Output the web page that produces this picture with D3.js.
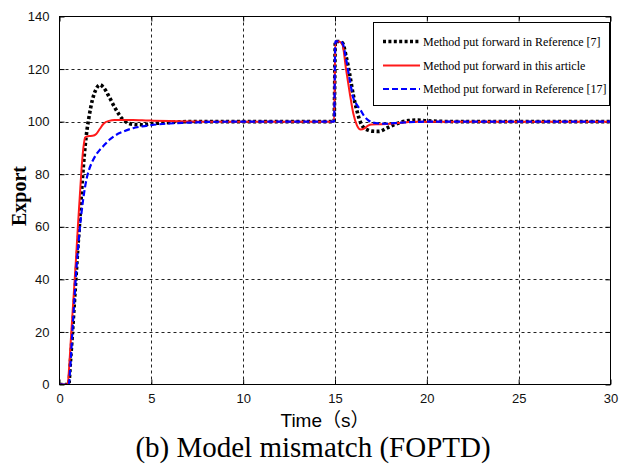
<!DOCTYPE html>
<html>
<head>
<meta charset="utf-8">
<script src="https://cdn.jsdelivr.net/npm/d3@7/dist/d3.min.js"></script>
<style>
  html, body { margin: 0; padding: 0; background: #fff; }
  svg { display: block; }
</style>
</head>
<body>
<svg id="chart" width="620" height="469"></svg>
<script>
// Sample times (s) shared by the three responses
const time = [0, 0.45, 0.5, 0.6, 0.7, 0.8, 0.9, 1.0, 1.1, 1.2, 1.3, 1.4, 1.5, 1.6, 1.8, 2.0, 2.2, 2.4, 2.7, 3.0,
  3.5, 4.0, 4.5, 5, 6, 7, 8, 10, 14.95, 15.02, 15.2, 15.4, 15.6, 15.8, 16.0, 16.2, 16.4, 16.6, 16.8, 17.0,
  17.4, 17.8, 18.2, 18.6, 19.0, 19.5, 20, 22, 30];

// Method of Reference [7]
const ref7 = [0, 0, 0, 9, 19, 30, 41, 52, 62, 73, 83, 91, 97, 101.5, 108.5, 112.5, 114, 113, 109.5, 105.5,
  100.5, 99, 98.8, 99.2, 99.7, 100, 100, 100, 100, 130.5, 130.5, 130, 125, 118, 110, 104, 99.5, 97.5, 96.8, 96.4,
  96.3, 97.5, 98.8, 99.8, 100.4, 100.6, 100.3, 100, 100];

// Method of this article
const thisArticle = [0, 0, 4, 15, 26, 37, 48, 60, 71, 82, 90, 94, 94.4, 94.5, 94.6, 95.3, 97.3, 99.2, 100.3, 100.6,
  100.6, 100.6, 100.5, 100.4, 100.2, 100.1, 100, 100, 100, 130.5, 130.5, 129.5, 120, 111, 103, 98.5, 97, 97.4, 98.5, 98.9,
  99, 99.1, 99.3, 99.6, 99.9, 100, 100, 100, 100];

// Method of Reference [17]
const ref17 = [0, 0, 0, 8, 20, 31, 42, 51, 59, 65.5, 71, 75.5, 79, 81.5, 85, 87.5, 89.3, 90.8, 93, 94.6,
  96.3, 97.5, 98.2, 98.7, 99.3, 99.6, 99.9, 100, 100, 130.5, 130.5, 130, 124, 116, 109, 106.3, 104.3, 102, 100.6, 99.8,
  99.3, 99.2, 99.4, 99.6, 99.8, 99.9, 100, 100, 100];

const xTicks = [0, 5, 10, 15, 20, 25, 30];
const yTicks = [0, 20, 40, 60, 80, 100, 120, 140];
const seriesNames = [
  "Method put forward in Reference [7]",
  "Method put forward in this article",
  "Method put forward in Reference [17]"
];

const svg = d3.select("#chart");
const plot = { left: 59.5, right: 610.5, top: 16.5, bottom: 384.5 };

const x = d3.scaleLinear().domain([0, 30]).range([plot.left, plot.right]);
const y = d3.scaleLinear().domain([0, 140]).range([plot.bottom, plot.top]);

// Dashed grid
const grid = svg.append("g").attr("stroke", "#222").attr("stroke-width", 1)
  .attr("stroke-dasharray", "3,3").attr("fill", "none");
xTicks.slice(1, -1).forEach(t => {
  grid.append("line").attr("x1", Math.round(x(t)) + 0.5).attr("x2", Math.round(x(t)) + 0.5)
    .attr("y1", plot.top).attr("y2", plot.bottom);
});
yTicks.slice(1, -1).forEach(v => {
  grid.append("line").attr("y1", Math.round(y(v)) + 0.5).attr("y2", Math.round(y(v)) + 0.5)
    .attr("x1", plot.left).attr("x2", plot.right);
});

// Axes with inward ticks on all four sides
const tickLen = 5;
const fmt = d3.format("d");
const axisBottom = d3.axisBottom(x).tickValues(xTicks).tickSizeInner(-tickLen).tickSizeOuter(0).tickPadding(9).tickFormat(fmt);
const axisTop = d3.axisTop(x).tickValues(xTicks).tickSizeInner(-tickLen).tickSizeOuter(0).tickFormat("");
const axisLeft = d3.axisLeft(y).tickValues(yTicks).tickSizeInner(-tickLen).tickSizeOuter(0).tickPadding(10).tickFormat(fmt);
const axisRight = d3.axisRight(y).tickValues(yTicks).tickSizeInner(-tickLen).tickSizeOuter(0).tickFormat("");

function styleAxis(g) {
  g.select(".domain").remove();
  g.selectAll(".tick line").attr("stroke", "#000");
  g.selectAll(".tick text").attr("fill", "#111")
    .style("font-family", "'Liberation Sans', Arial, sans-serif").style("font-size", "13px");
}
svg.append("g").attr("transform", `translate(0,${plot.bottom})`).call(axisBottom).call(styleAxis);
svg.append("g").attr("transform", `translate(0,${plot.top})`).call(axisTop).call(styleAxis);
svg.append("g").attr("transform", `translate(${plot.left},0)`).call(axisLeft).call(styleAxis);
svg.append("g").attr("transform", `translate(${plot.right},0)`).call(axisRight).call(styleAxis);

// Response curves
const clip = svg.append("clipPath").attr("id", "plotClip").append("rect")
  .attr("x", plot.left).attr("y", plot.top - 2)
  .attr("width", plot.right - plot.left).attr("height", plot.bottom - plot.top + 2);

const lineGen = vals => d3.line()
  .x((d, i) => x(time[i]))
  .y(d => y(d))
  .curve(d3.curveMonotoneX)(vals);

const styles = [
  { data: ref7, color: "#000", width: 3.6, dash: "3,2.4" },
  { data: thisArticle, color: "#ff1a1a", width: 2, dash: null },
  { data: ref17, color: "#0000ff", width: 2.2, dash: "6,3" }
];

const curves = svg.append("g").attr("clip-path", "url(#plotClip)");
styles.forEach(s => {
  curves.append("path").attr("d", lineGen(s.data))
    .attr("fill", "none").attr("stroke", s.color).attr("stroke-width", s.width)
    .attr("stroke-dasharray", s.dash).attr("stroke-linejoin", "round");
});

// Frame
svg.append("rect").attr("x", plot.left).attr("y", plot.top)
  .attr("width", plot.right - plot.left).attr("height", plot.bottom - plot.top)
  .attr("fill", "none").attr("stroke", "#000").attr("stroke-width", 1);

// Legend
const legend = svg.append("g");
legend.append("rect").attr("x", 373.5).attr("y", 22.5).attr("width", 236).attr("height", 83)
  .attr("fill", "#fff").attr("stroke", "#000").attr("stroke-width", 1);
const rowY = [41.5, 65.5, 89];
styles.forEach((s, i) => {
  legend.append("line").attr("x1", 383).attr("x2", 420).attr("y1", rowY[i]).attr("y2", rowY[i])
    .attr("stroke", s.color).attr("stroke-width", s.width).attr("stroke-dasharray", s.dash);
  legend.append("text").attr("x", 423).attr("y", rowY[i] + 4)
    .style("font-family", "'Liberation Serif', 'Times New Roman', serif").style("font-size", "12px")
    .attr("fill", "#000").text(seriesNames[i]);
});

// Axis titles and caption
svg.append("text").attr("transform", "translate(26,196) rotate(-90)").attr("text-anchor", "middle")
  .style("font-family", "'Liberation Serif', 'Times New Roman', serif").style("font-size", "20px")
  .style("font-weight", "bold").attr("fill", "#000").text("Export");

svg.append("text").attr("x", 325).attr("y", 427).attr("text-anchor", "middle")
  .style("font-family", "'Liberation Sans', Arial, 'Noto Sans CJK SC', sans-serif").style("font-size", "19px")
  .attr("fill", "#000").text("Time（s）");

svg.append("text").attr("x", 313).attr("y", 457).attr("text-anchor", "middle")
  .style("font-family", "'Liberation Serif', 'Times New Roman', serif").style("font-size", "29px")
  .attr("fill", "#000").text("(b) Model mismatch (FOPTD)");
</script>
</body>
</html>
